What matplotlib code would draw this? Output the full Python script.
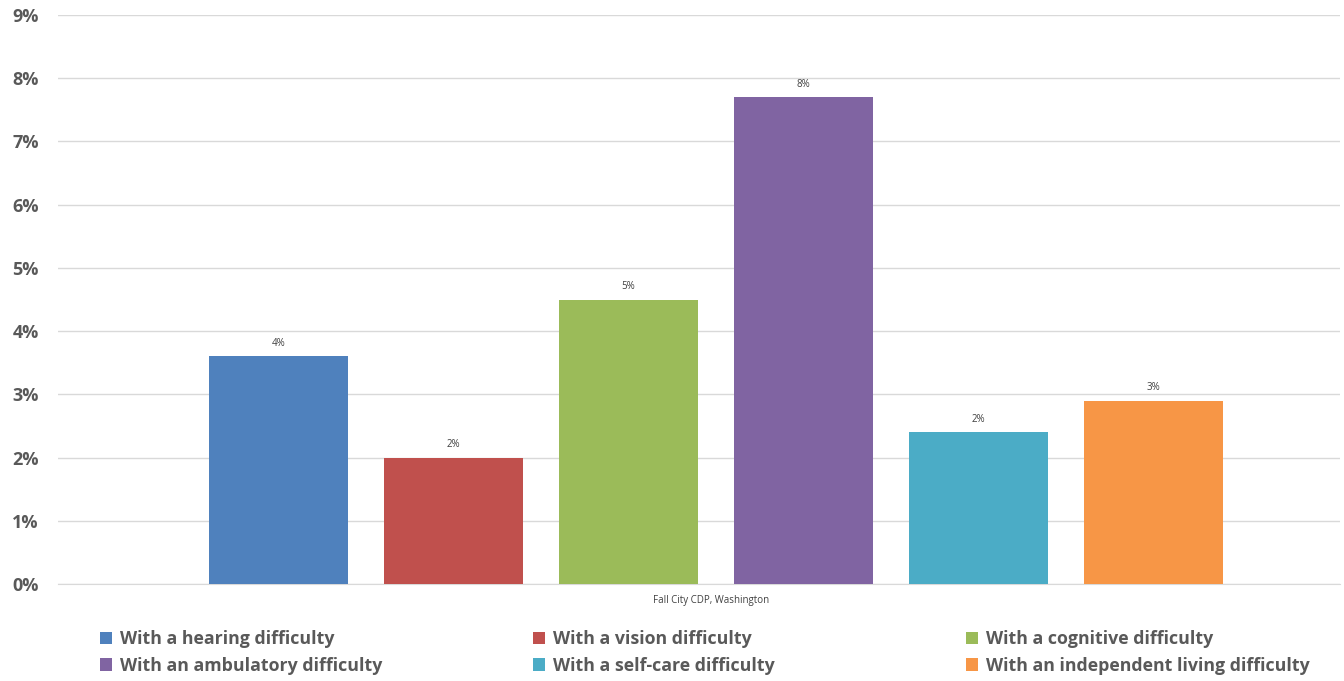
import matplotlib
matplotlib.use("Agg")
import matplotlib.pyplot as plt
import numpy as np

plt.rcParams['font.family'] = ['Open Sans', 'DejaVu Sans']

series = ["With a hearing difficulty", "With a vision difficulty", "With a cognitive difficulty",
          "With an ambulatory difficulty", "With a self-care difficulty", "With an independent living difficulty"]
values = [3.6, 2.0, 4.5, 7.7, 2.4, 2.9]
labels = ["4%", "2%", "5%", "8%", "2%", "3%"]
colors = ["#4F81BD", "#C0504D", "#9BBB59", "#8064A2", "#4BACC6", "#F79646"]
category = "Fall City CDP, Washington"
yticks = list(range(0, 10))

fig = plt.figure(figsize=(13.44, 6.81), dpi=100)
ax = fig.add_axes([58/1344, 1 - 584/681, (1340-58)/1344, (584-15)/681])

pos = np.arange(len(values))
bars = []
for i, (v, c, s, l) in enumerate(zip(values, colors, series, labels)):
    b = ax.bar(pos[i], v, width=0.79, color=c, label=s, zorder=3)
    bars.append(b)
    ax.annotate(l, (pos[i], v), xytext=(0, 5.5), textcoords="offset points",
                ha="center", va="bottom", fontsize=7, color="#404040")

ax.set_xlim(-1.26, 6.066)
ax.set_ylim(0, 9)
ax.set_yticks(yticks)
ax.set_yticklabels([f"{t}%" for t in yticks], fontsize=13, fontweight="bold", color="#595959")
ax.set_xticks([])
ax.grid(axis="y", color="#D9D9D9", linewidth=1, zorder=0)
for sp in ["top", "right", "left"]:
    ax.spines[sp].set_visible(False)
ax.spines["bottom"].set_color("#D9D9D9")
ax.tick_params(axis="y", length=0, pad=14)

fig.text(711/1344, 1 - 600/681, category, ha="center", va="center", fontsize=7, color="#404040")

colx = [100, 533, 966]
for k in range(3):
    hs = [bars[k], bars[k+3]]
    ls = [series[k], series[k+3]]
    fig.legend(hs, ls, loc="upper left", bbox_to_anchor=(colx[k]/1344, 1 - 630/681),
               frameon=False, handlelength=0.7, handleheight=0.7,
               handletextpad=0.4, labelspacing=0.5, borderpad=0, borderaxespad=0,
               prop={'weight': 'bold', 'size': 12.8}, labelcolor="#595959")

fig.savefig("out.png", dpi=100)
